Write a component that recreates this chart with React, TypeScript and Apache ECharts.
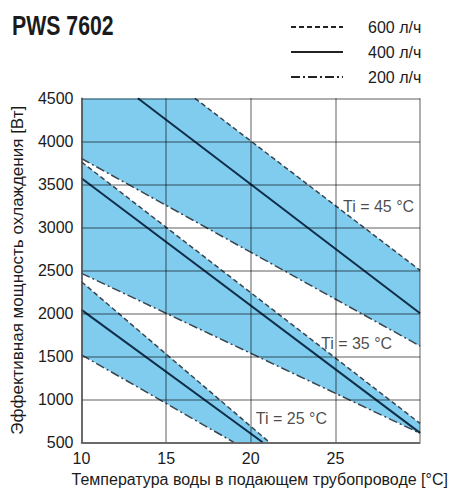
import React, { useEffect, useRef } from "react";
import * as echarts from "echarts";

// Axis ranges (°C and W)
const X_MIN = 10;
const X_MAX = 30;
const X_STEP = 5;
const Y_MIN = 500;
const Y_MAX = 4500;
const Y_STEP = 500;

// Flow-rate legend names
const FLOW_600 = "600 л/ч";
const FLOW_400 = "400 л/ч";
const FLOW_200 = "200 л/ч";

// Ti = 45 °C curves [water temp °C, power W]
const ti45Flow600 = [[16.7, 4500], [30, 2500]];
const ti45Flow400 = [[13.33, 4500], [30, 2000]];
const ti45Flow200 = [[10, 3800], [30, 1620]];

// Ti = 35 °C curves
const ti35Flow600 = [[10, 3760], [30, 720]];
const ti35Flow400 = [[10, 3570], [30, 610]];
const ti35Flow200 = [[10, 2465], [30, 605]];

// Ti = 25 °C curves
const ti25Flow600 = [[10, 2367], [21.1, 500]];
const ti25Flow400 = [[10, 2040], [20.7, 500]];
const ti25Flow200 = [[10, 1517], [19.0, 500]];

// Band labels (anchor in data units)
const bandLabels = [
  { text: "Ti = 45 °C", x: 25.45, y: 3240 },
  { text: "Ti = 35 °C", x: 24.15, y: 1650 },
  { text: "Ti = 25 °C", x: 20.3, y: 780 },
];

const TITLE = "PWS 7602";
const FONT = "'Liberation Sans', Arial, sans-serif";

export default function App() {
  const ref = useRef<HTMLDivElement>(null);

  useEffect(() => {
    if (!ref.current) return;
    const chart = echarts.init(ref.current, undefined, { renderer: "svg" });

    // band polygons: area between 600 and 200 l/h curves
    const bands: number[][][] = [
      [[X_MIN, Y_MAX], ...ti45Flow600, ...[...ti45Flow200].reverse()],
      [...ti35Flow600, ...[...ti35Flow200].reverse()],
      [...ti25Flow600, ...[...ti25Flow200].reverse()],
    ];

    const styles: Record<string, any> = {
      [FLOW_600]: { type: [5, 3], width: 1.5, color: "#39444d" },
      [FLOW_400]: { type: "solid", width: 2, color: "#0e2e48" },
      [FLOW_200]: { type: [9, 3, 2, 3], width: 1.5, color: "#39444d" },
    };

    const curves: [string, number[][]][] = [
      [FLOW_600, ti45Flow600],
      [FLOW_400, ti45Flow400],
      [FLOW_200, ti45Flow200],
      [FLOW_600, ti35Flow600],
      [FLOW_400, ti35Flow400],
      [FLOW_200, ti35Flow200],
      [FLOW_600, ti25Flow600],
      [FLOW_400, ti25Flow400],
      [FLOW_200, ti25Flow200],
    ];

    const lineSeries = curves.map(([name, data]) => ({
      type: "line",
      name,
      data,
      symbol: "none",
      lineStyle: styles[name],
      itemStyle: { color: styles[name].color },
      z: 3,
      silent: true,
    }));

    chart.setOption({
      animation: false,
      graphic: [
        {
          type: "text",
          x: 12,
          y: 25,
          scaleX: 0.76,
          style: {
            text: TITLE,
            font: "bold 28px 'Liberation Sans', Arial, sans-serif",
            fill: "#1b1b1b",
            verticalAlign: "middle",
            align: "left",
          },
        },
      ],
      legend: {
        orient: "vertical",
        left: 285,
        top: 14,
        itemWidth: 52,
        itemHeight: 14,
        itemGap: 9,
        data: [FLOW_600, FLOW_400, FLOW_200],
        itemStyle: { opacity: 0 },
        lineStyle: { color: "#222" },
        textStyle: { fontFamily: FONT, fontSize: 16, lineHeight: 16, color: "#1b1b1b", padding: [0, 0, 0, 20] },
        selectedMode: false,
      },
      grid: { left: 81.5, right: 29, top: 98.3, bottom: 49.7, containLabel: false, outerBoundsMode: "none" },
      xAxis: {
        type: "value",
        min: X_MIN,
        max: X_MAX,
        interval: X_STEP,
        z: 5,
        name: "Температура воды в подающем трубопроводе [°C]",
        nameLocation: "middle",
        nameGap: 22,
        nameTextStyle: { fontFamily: FONT, fontSize: 16, color: "#1b1b1b", padding: [0, 0, 0, 18] },
        axisLine: { show: true, lineStyle: { color: "#555", width: 1.5 } },
        axisTick: { show: false },
        axisLabel: {
          fontFamily: FONT,
          fontSize: 16,
          color: "#1b1b1b",
          margin: 8,
          showMaxLabel: false,
          formatter: (v: number) => (v >= X_MAX ? "" : String(v)),
        },
        splitLine: { show: true, lineStyle: { color: "rgba(0,0,0,0.42)", width: 1.5 } },
      },
      yAxis: {
        type: "value",
        min: Y_MIN,
        max: Y_MAX,
        interval: Y_STEP,
        z: 5,
        name: "Эффективная мощность охлаждения [Вт]",
        nameLocation: "middle",
        nameGap: 56,
        nameTextStyle: { fontFamily: FONT, fontSize: 17, color: "#1b1b1b" },
        axisLine: { show: true, lineStyle: { color: "#555", width: 1.5 } },
        axisTick: { show: false },
        axisLabel: {
          fontFamily: FONT,
          fontSize: 16,
          color: "#1b1b1b",
          margin: 8,
          formatter: (v: number) => String(v),
        },
        splitLine: { show: true, lineStyle: { color: "rgba(0,0,0,0.42)", width: 1.5 } },
      },
      series: [
        {
          type: "custom",
          name: "bands",
          clip: true,
          silent: true,
          z: 1,
          data: bands.map((b, i) => [b[0][0], b[0][1], i]),
          encode: { x: 0, y: 1 },
          renderItem: (params: any, api: any) => {
            const poly = bands[params.dataIndex];
            return {
              type: "polygon",
              shape: { points: poly.map((p) => api.coord(p)) },
              style: { fill: "#80ccef", stroke: "none" },
            };
          },
        },
        ...lineSeries,
        {
          type: "scatter",
          name: "labels",
          symbolSize: 0,
          silent: true,
          z: 6,
          data: bandLabels.map((l) => ({ value: [l.x, l.y], name: l.text })),
          label: {
            show: true,
            position: "right",
            distance: 0,
            formatter: (p: any) => p.name,
            fontFamily: FONT,
            fontSize: 16,
            color: "#1b1b1b",
          },
        },
      ],
    });

    return () => chart.dispose();
  }, []);

  return (
    <div
      ref={ref}
      style={{ position: "fixed", left: 0, top: 0, width: 449, height: 492, background: "#fff" }}
    />
  );
}
